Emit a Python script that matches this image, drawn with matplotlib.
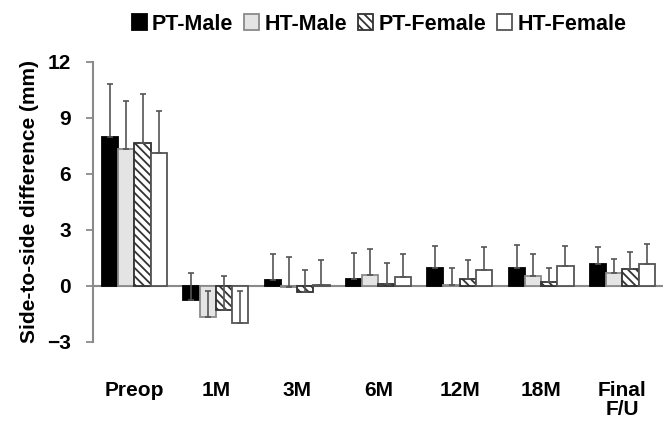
import numpy as np
import matplotlib
matplotlib.use('Agg')
import matplotlib.pyplot as plt

plt.rcParams['font.family'] = ['Liberation Sans', 'DejaVu Sans']
plt.rcParams['font.weight'] = 'bold'
plt.rcParams['hatch.linewidth'] = 1.3

TIMEPOINTS = ['Preop', '1M', '3M', '6M', '12M', '18M', 'Final\nF/U']
GROUPS = ['PT-Male', 'HT-Male', 'PT-Female', 'HT-Female']

# mean side-to-side difference (mm)
PT_MALE = [7.95, -0.77, 0.30, 0.34, 0.96, 0.96, 1.15]
HT_MALE = [7.31, -1.66, -0.05, 0.57, 0.03, 0.54, 0.66]
PT_FEMALE = [7.63, -1.32, -0.35, 0.08, 0.34, 0.21, 0.89]
HT_FEMALE = [7.09, -2.00, 0.03, 0.48, 0.84, 1.07, 1.15]

# standard deviation (upper error bar only)
PT_MALE_SD = [2.84, 1.47, 1.40, 1.43, 1.17, 1.22, 0.94]
HT_MALE_SD = [2.60, 1.36, 1.60, 1.40, 0.90, 1.16, 0.77]
PT_FEMALE_SD = [2.62, 1.84, 1.19, 1.15, 1.04, 0.74, 0.90]
HT_FEMALE_SD = [2.28, 1.72, 1.35, 1.22, 1.25, 1.06, 1.07]

STYLES = [
    dict(color='black', edgecolor='black'),
    dict(color='#e4e4e4', edgecolor='#8a8a8a'),
    dict(color='white', edgecolor='#333333', hatch='\\\\\\\\'),
    dict(color='white', edgecolor='#555555'),
]

fig = plt.figure(figsize=(6.63, 4.22), dpi=100)
ax = fig.add_axes([93 / 663, 1 - 341.7 / 422, 1 - 93 / 663, (341.7 - 61.7) / 422])

x = np.arange(len(TIMEPOINTS))
w = 0.2
means = [PT_MALE, HT_MALE, PT_FEMALE, HT_FEMALE]
sds = [PT_MALE_SD, HT_MALE_SD, PT_FEMALE_SD, HT_FEMALE_SD]

ax.axhline(0, color='#8a8a8a', lw=1.5, zorder=1)

handles = []
for i, (m, s, st) in enumerate(zip(means, sds, STYLES)):
    xs = x + (i - 1.5) * w
    b = ax.bar(xs, m, w, linewidth=1.3, zorder=2, label=GROUPS[i], **st)
    handles.append(b)
    ax.errorbar(xs, m, yerr=[np.zeros(len(m)), s], fmt='none', ecolor='#555555',
                elinewidth=1.2, capsize=2.2, capthick=1.2, zorder=3)

ax.set_xlim(-0.51, 6.5)
ax.set_ylim(-3, 12)
ax.set_yticks([-3, 0, 3, 6, 9, 12])
ax.tick_params(axis='y', direction='out', length=5, width=1.3, color='#8a8a8a',
               labelsize=15, pad=11)
ax.set_xticks(x)
ax.set_xticklabels(TIMEPOINTS, fontsize=15, fontweight='bold', linespacing=1.0)
ax.tick_params(axis='x', length=0, pad=28)
for sp in ['top', 'right', 'bottom']:
    ax.spines[sp].set_visible(False)
ax.spines['left'].set_color('#8a8a8a')
ax.spines['left'].set_linewidth(1.5)

ax.set_ylabel('Side-to-side difference (mm)', fontsize=15, fontweight='bold', labelpad=6)

fig.legend(handles=handles, labels=GROUPS, loc='center', ncol=4,
           bbox_to_anchor=(379 / 663, 1 - 24 / 422), frameon=False,
           fontsize=15.5, handlelength=0.7, handleheight=0.7,
           handletextpad=0.25, columnspacing=0.5, borderaxespad=0)

fig.savefig('out.png', dpi=100)
